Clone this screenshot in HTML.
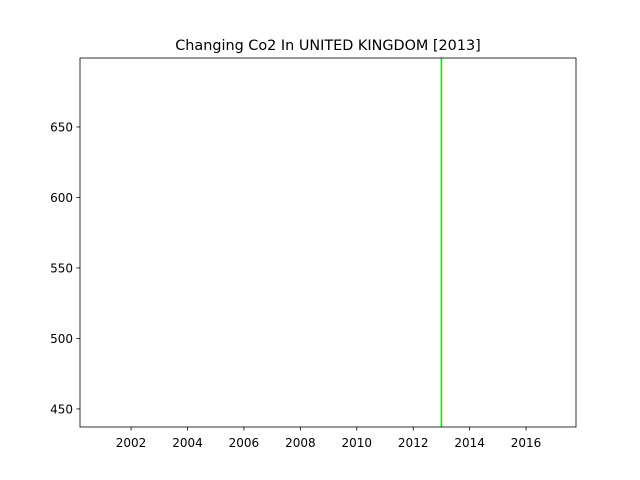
<!DOCTYPE html>
<html><head><meta charset="utf-8"><style>
body{margin:0;background:#fff;}
svg{display:block;font-family:"DejaVu Sans","Liberation Sans",sans-serif;}
</style></head><body>
<svg id="chart" width="640" height="480">
<rect width="640" height="480" fill="#fff"/>
<text x="328" y="50" font-size="14.4" text-anchor="middle">Changing Co2 In UNITED KINGDOM [2013]</text>
<g id="xt"></g>
<g id="yt"></g>
<g id="marks"></g>
<rect x="80" y="58" width="496" height="369" fill="none" stroke="#000" stroke-width="0.8"/>
</svg>
<script>
const xTicks=[2002,2004,2006,2008,2010,2012,2014,2016];
const yTicks=[450,500,550,600,650];
const markerYears=[2013];
const xDomain=[2000.19,2017.77], yDomain=[437.2,698.9];
const L=80,R=576,T=58,B=427;
const sx=v=>L+(v-xDomain[0])/(xDomain[1]-xDomain[0])*(R-L);
const sy=v=>B-(v-yDomain[0])/(yDomain[1]-yDomain[0])*(B-T);
const NS="http://www.w3.org/2000/svg";
function mk(tag,attrs,parent){const e=document.createElementNS(NS,tag);for(const k in attrs)e.setAttribute(k,attrs[k]);parent.appendChild(e);return e;}
const xt=document.getElementById('xt'),yt=document.getElementById('yt'),marks=document.getElementById('marks');
xTicks.forEach(v=>{const x=sx(v);
 const l=mk('line',{x1:x,x2:x,y1:B,y2:B+3.5,stroke:'#000','stroke-width':0.8},xt);
 
 
 const t=mk('text',{x:x,y:B+20,'font-size':12,'text-anchor':'middle'},xt);t.textContent=v;
 
 });
yTicks.forEach(v=>{const y=sy(v);
 const l=mk('line',{x1:L-3.5,x2:L,y1:y,y2:y,stroke:'#000','stroke-width':0.8},yt);
 
 
 const t=mk('text',{x:L-7,y:y+4.5,'font-size':12,'text-anchor':'end'},yt);t.textContent=v;
 
 });
markerYears.forEach(v=>{const x=sx(v);
 const l=mk('line',{x1:x,x2:x,y1:T,y2:B,stroke:'#00ee00','stroke-width':1.6},marks);
 
 });
</script>
</body></html>
